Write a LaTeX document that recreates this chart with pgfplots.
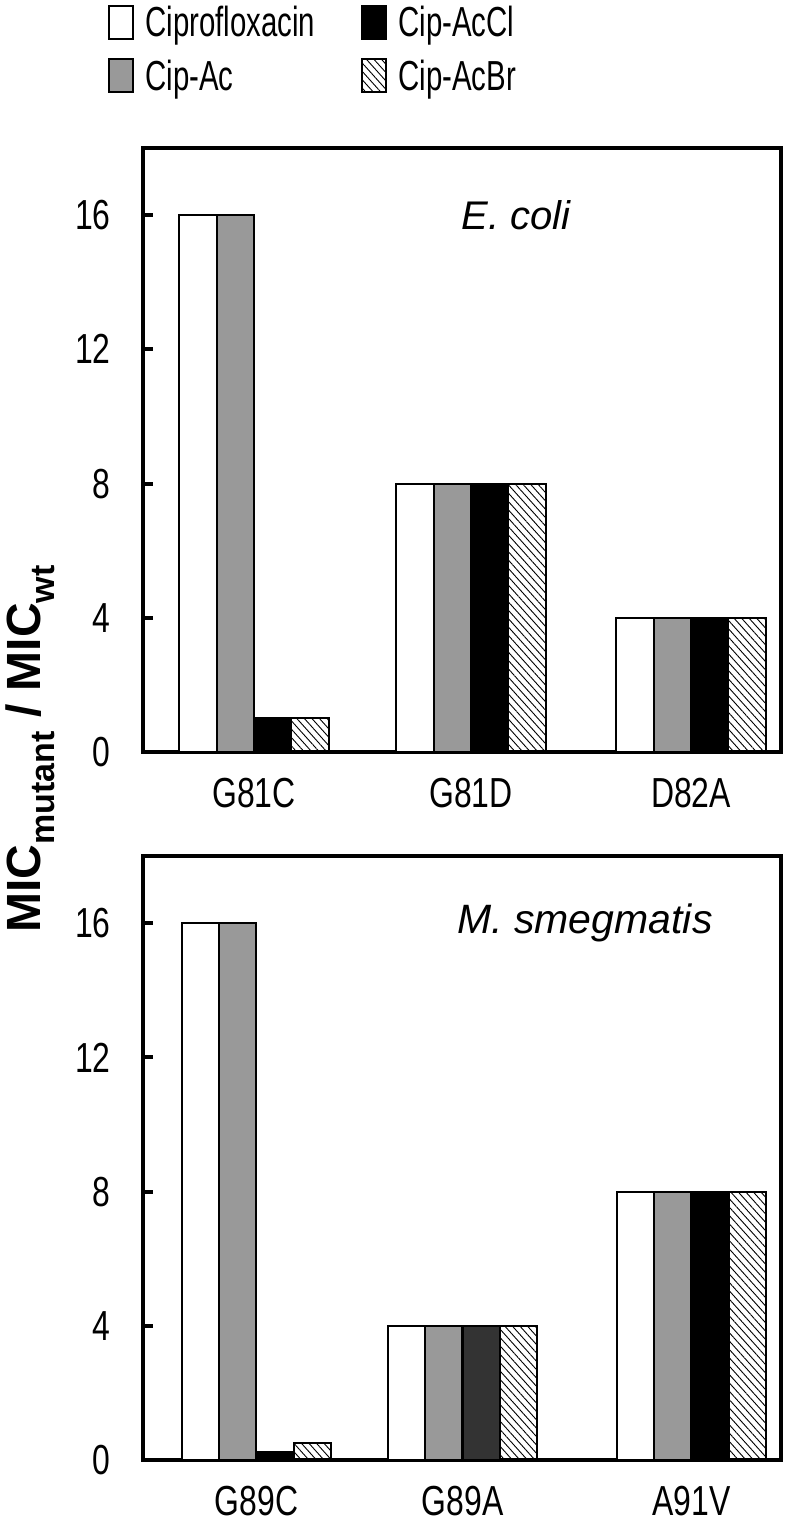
\documentclass[border=0pt]{standalone}
\usepackage{fontspec}
\setmainfont{Liberation Sans}[FakeStretch=0.76]
\newfontfamily\widefont{Liberation Sans}
\newfontfamily\legfont{Liberation Sans}[FakeStretch=0.7]
\usepackage{pgfplots}
\pgfplotsset{compat=1.18}
\usetikzlibrary{patterns.meta}

% top panel (E. coli): x positions in axis units
\pgfplotstableread{
x y
198.0 16
415.0 8
635.0 4
}\ecA
\pgfplotstableread{
x y
235.3 16
452.3 8
672.3 4
}\ecB
\pgfplotstableread{
x y
272.7 1
489.7 8
709.7 4
}\ecC
\pgfplotstableread{
x y
310.0 1
527.0 8
747.0 4
}\ecD
% bottom panel (M. smegmatis)
\pgfplotstableread{
x y
200.5 16
406.5 4
635.5 8
}\msA
\pgfplotstableread{
x y
237.8 16
443.8 4
672.8 8
}\msB
\pgfplotstableread{
x y
275.2 0.25
710.2 8
}\msC
\pgfplotstableread{
x y
481.2 4
}\msCdark
\pgfplotstableread{
x y
312.5 0.5
518.5 4
747.5 8
}\msD

\definecolor{bargray}{gray}{0.6}
\definecolor{bardark}{gray}{0.2}

\pgfplotsset{
  panel/.style={
    width=319pt, height=302pt, scale only axis,
    xmin=143, xmax=781, ymin=0, ymax=18,
    ytick={0,4,8,12,16},
    axis line style={line width=2pt},
    major tick length=5pt,
    ytick pos=left, tick align=inside,
    ytick style={line width=2pt, black},
    xtick style={draw=none},
    ybar, bar shift=0pt, bar width=37.3,
    every axis plot/.append style={draw=black, line width=1pt},
    /pgf/number format/assume math mode=true,
    tick label style={font=\fontsize{21}{24}\selectfont},
    yticklabel style={inner sep=0pt, xshift=-16pt},
    xticklabel style={inner sep=0pt, yshift=-8pt, text depth=0pt},
  },
  cipro/.style={fill=white},
  cipac/.style={fill=bargray},
  cipcl/.style={fill=black},
  cipbr/.style={fill=white, pattern={Lines[angle=-48, distance=2.8pt, line width=0.45pt]}},
}

\begin{document}
\begin{tikzpicture}
\useasboundingbox (-71.5pt,-387.5pt) rectangle (328.5pt,376pt);
\begin{axis}[panel, name=top, at={(0,0)}, anchor=south west,
  xtick={254,471,691}, xticklabels={G81C,G81D,D82A},
  legend columns=2,
  legend cell align=left,
  legend style={at={(-0.055,1.242)}, anchor=north west, draw=none, fill=none,
    inner sep=0pt, font=\legfont\fontsize{21}{24}\selectfont, row sep=6pt,
    /tikz/every even column/.append style={column sep=21pt}},
  legend image code/.code={\draw[#1, line width=1pt] (0pt,-8pt) rectangle (12pt,8.5pt); \path (15.5pt,0pt);},
]
\addplot[cipro] table {\ecA};
\addlegendentry{Ciprofloxacin}
\addplot[cipcl] table {\ecC};
\addlegendentry{Cip-AcCl}
\addplot[cipac] table {\ecB};
\addlegendentry{Cip-Ac}
\addplot[cipbr] table {\ecD};
\addlegendentry{Cip-AcBr}
\node[font=\widefont\fontsize{20}{24}\selectfont\itshape] at (axis cs:516,16) {E. coli};
\end{axis}

\begin{axis}[panel, name=bottom, at={(0,-354pt)}, anchor=south west,
  xtick={256.5,462.5,691.5}, xticklabels={G89C,G89A,A91V},
]
\addplot[cipro] table {\msA};
\addplot[cipac] table {\msB};
\addplot[cipcl] table {\msC};
\addplot[fill=bardark] table {\msCdark};
\addplot[cipbr] table {\msD};
\node[font=\widefont\fontsize{20.5}{24}\selectfont\itshape] at (axis cs:585,16) {M. smegmatis};
\end{axis}

\node[rotate=90, inner sep=0pt] at ([xshift=-56.5pt, yshift=1.5pt]top.south west)
  {\widefont\bfseries\fontsize{24}{28}\selectfont MIC\raisebox{-0.3em}{\fontsize{17}{20}\selectfont mutant} / MIC\raisebox{-0.3em}{\fontsize{17}{20}\selectfont wt}};
\end{tikzpicture}
\end{document}
